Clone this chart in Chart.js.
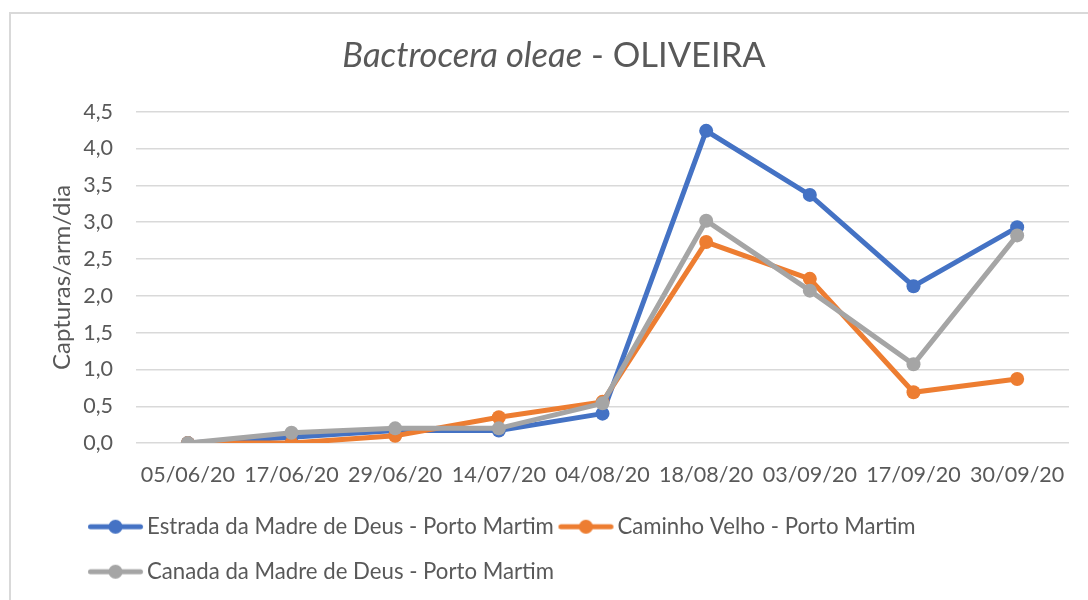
<!DOCTYPE html>
<html>
<head>
<meta charset="utf-8">
<script src="https://cdn.jsdelivr.net/npm/chart.js@4/dist/chart.umd.min.js"></script>
<style>
  html, body { margin: 0; padding: 0; background: #ffffff; overflow: hidden; }
  #frame { position: absolute; left: 9px; top: 12px; width: 1100px; height: 600px;
           border-left: 2px solid #d9d9d9; border-top: 2px solid #d9d9d9; }
  #chart { position: absolute; left: 0; top: 0; }
</style>
</head>
<body>
<div id="frame"><canvas id="chart" width="1077" height="586"></canvas></div>
<script>
const categories = ['05/06/20', '17/06/20', '29/06/20', '14/07/20', '04/08/20', '18/08/20', '03/09/20', '17/09/20', '30/09/20'];
const seriesNames = ['Estrada da Madre de Deus - Porto Martim', 'Caminho Velho - Porto Martim', 'Canada da Madre de Deus - Porto Martim'];
const estradaValues = [0, 0.08, 0.17, 0.17, 0.40, 4.24, 3.37, 2.13, 2.93];
const caminhoValues = [0, 0.00, 0.10, 0.35, 0.56, 2.73, 2.23, 0.69, 0.87];
const canadaValues  = [0, 0.14, 0.20, 0.20, 0.54, 3.02, 2.07, 1.07, 2.82];
const seriesColors = ['#4472C4', '#ED7D31', '#A5A5A5'];
const titleItalic = 'Bactrocera oleae';
const titleRest = ' - OLIVEIRA';
const yAxisTitle = 'Capturas/arm/dia';

const TEXT = '#595959';
const FONT = 'Lato';

function legendMarker(color) {
  const c = document.createElement('canvas');
  c.width = 70; c.height = 16;
  const g = c.getContext('2d');
  g.strokeStyle = color; g.lineWidth = 5; g.lineCap = 'round';
  g.beginPath(); g.moveTo(4.45, 8); g.lineTo(54.45, 8); g.stroke();
  g.fillStyle = color;
  g.beginPath(); g.arc(29.45, 8, 7, 0, Math.PI * 2); g.fill();
  return c;
}
const markers = seriesColors.map(legendMarker);

const titlePlugin = {
  id: 'mixedTitle',
  afterDraw(chart) {
    const ctx = chart.ctx;
    ctx.save();
    ctx.fillStyle = TEXT;
    ctx.textBaseline = 'alphabetic';
    ctx.textAlign = 'left';
    const f1 = 'italic 34.5px ' + FONT, f2 = '34.5px ' + FONT;
    ctx.font = f1; const w1 = ctx.measureText(titleItalic).width;
    ctx.font = f2; const w2 = ctx.measureText(titleRest).width;
    const x0 = 543 - (w1 + w2) / 2;
    ctx.font = f1; ctx.fillText(titleItalic, x0, 52.5);
    ctx.font = f2; ctx.fillText(titleRest, x0 + w1, 52.5);
    ctx.restore();
  }
};

function ds(i, values, order) {
  return {
    label: seriesNames[i], data: values, order: order,
    borderColor: seriesColors[i], backgroundColor: seriesColors[i],
    borderWidth: 5, tension: 0, fill: false,
    pointRadius: 7, pointHoverRadius: 7, pointBorderWidth: 0,
    pointBackgroundColor: seriesColors[i], pointStyle: 'circle'
  };
}

new Chart(document.getElementById('chart'), {
  type: 'line',
  data: {
    labels: categories,
    datasets: [ds(0, estradaValues, 3), ds(1, caminhoValues, 2), ds(2, canadaValues, 1)]
  },
  options: {
    responsive: false, animation: false, devicePixelRatio: 1,
    layout: { padding: { left: 72.4, right: 19, top: 97.7, bottom: 7.2 } },
    plugins: {
      title: { display: false },
      tooltip: { enabled: false },
      legend: {
        display: true, position: 'bottom', align: 'start',
        labels: {
          usePointStyle: true, pointStyleWidth: 29.7, padding: 22.8,
          color: TEXT, font: { family: FONT, size: 22.2 },
          generateLabels(chart) {
            const items = Chart.defaults.plugins.legend.labels.generateLabels(chart);
            items.sort((a, b) => a.datasetIndex - b.datasetIndex);
            items.forEach(it => { it.pointStyle = markers[it.datasetIndex]; it.fontColor = TEXT; });
            return items;
          }
        }
      }
    },
    scales: {
      x: {
        offset: true,
        grid: { display: false, drawTicks: false },
        border: { display: false },
        ticks: { color: TEXT, font: { family: FONT, size: 21.5 }, padding: 19, maxRotation: 0, autoSkip: false },
        afterFit(scale) { scale.height = 49.7; }
      },
      y: {
        min: 0, max: 4.5,
        grid: { color: '#D9D9D9', lineWidth: 1.5, drawTicks: false },
        border: { display: false },
        ticks: {
          stepSize: 0.5, color: TEXT, font: { family: FONT, size: 21.5 }, padding: 23,
          callback: v => Number(v).toFixed(1).replace('.', ',')
        },
        title: {
          display: true, text: yAxisTitle, color: TEXT,
          font: { family: FONT, size: 24 }, padding: { top: -35.8, bottom: 0 }
        },
        afterFit(scale) { scale.width = 52.6; }
      }
    }
  },
  plugins: [titlePlugin]
});
</script>
</body>
</html>
